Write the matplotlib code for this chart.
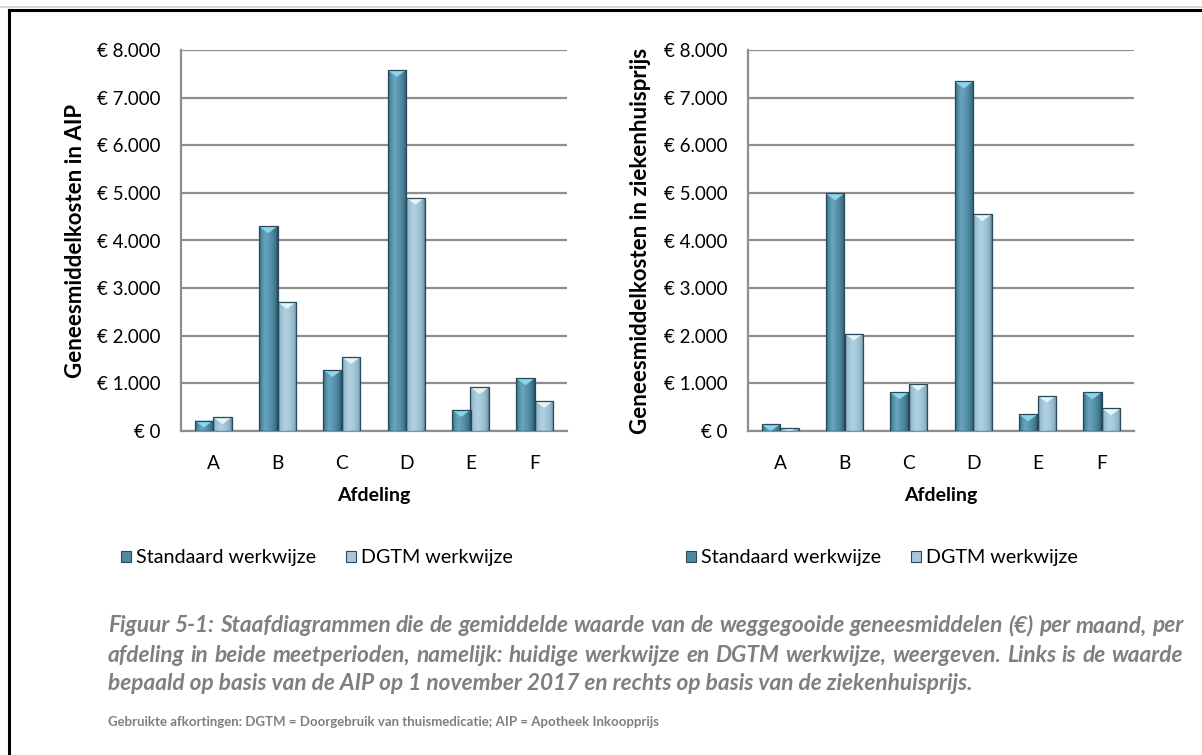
import matplotlib
matplotlib.use("Agg")
import matplotlib.pyplot as plt
import numpy as np
from matplotlib.colors import LinearSegmentedColormap
from matplotlib.patches import Polygon, Rectangle
from matplotlib.lines import Line2D

# ---------------- data ----------------
categories = ["A", "B", "C", "D", "E", "F"]
series_names = ["Standaard werkwijze", "DGTM werkwijze"]
aip_standaard = [220, 4300, 1280, 7580, 443, 1110]
aip_dgtm = [290, 2710, 1555, 4900, 922, 633]
zh_standaard = [140, 4990, 813, 7340, 350, 813]
zh_dgtm = [70, 2046, 995, 4553, 743, 476]
y_ticks = [0, 1000, 2000, 3000, 4000, 5000, 6000, 7000, 8000]
y_ticklabels = ["€ 0", "€ 1.000", "€ 2.000", "€ 3.000", "€ 4.000",
                "€ 5.000", "€ 6.000", "€ 7.000", "€ 8.000"]
ylabel_left = "Geneesmiddelkosten in AIP"
ylabel_right = "Geneesmiddelkosten in ziekenhuisprijs"
xlabel = "Afdeling"
caption_lines = [
    "Figuur 5-1: Staafdiagrammen die de gemiddelde waarde van de weggegooide geneesmiddelen (€) per maand, per",
    "afdeling in beide meetperioden, namelijk: huidige werkwijze en DGTM werkwijze, weergeven. Links is de waarde",
    "bepaald op basis van de AIP op 1 november 2017 en rechts op basis van de ziekenhuisprijs.",
]
abbrev = "Gebruikte afkortingen: DGTM = Doorgebruik van thuismedicatie; AIP = Apotheek Inkoopprijs"

# ---------------- style ----------------
W, H = 1202, 755
FONT = "Lato"
plt.rcParams["font.family"] = [FONT, "DejaVu Sans"]

std_cmap = LinearSegmentedColormap.from_list(
    "std", [(0.0, "#2e5a6d"), (0.12, "#4f8ba3"), (0.35, "#6aa6bf"),
            (0.7, "#4f8aa2"), (0.92, "#3b6e84"), (1.0, "#23414f")])
dgtm_cmap = LinearSegmentedColormap.from_list(
    "dgtm", [(0.0, "#6f94a6"), (0.12, "#99bfd1"), (0.4, "#b2d2e2"),
             (0.75, "#9cc0d1"), (0.92, "#84a9bb"), (1.0, "#5f7f8e")])
std_tip = "#8ed8f0"
dgtm_tip = "#eaf7fc"
edge_col = "#274a59"
grid_col = "#8e8e8e"

fig = plt.figure(figsize=(W / 100, H / 100), dpi=100)
fig.patch.set_facecolor("white")


def fx(px):
    return px / W


def fy(py):
    return 1 - py / H


def draw_chart(ax, std_vals, dgtm_vals, ylabel, ylabel_x):
    x = np.arange(len(categories))
    bw = 0.29
    ax.set_xlim(-0.5, len(categories) - 0.5)
    ax.set_ylim(0, 8000)
    bars_s = ax.bar(x - bw / 2, std_vals, bw, facecolor="none",
                    edgecolor=edge_col, linewidth=0.9, zorder=4)
    bars_d = ax.bar(x + bw / 2, dgtm_vals, bw, facecolor="none",
                    edgecolor=edge_col, linewidth=0.9, zorder=4)
    grad = np.linspace(0, 1, 64).reshape(1, -1)
    fig.canvas.draw()
    px_to_data = 8000 / ax.get_window_extent().height
    for bars, cmap, tipc in ((bars_s, std_cmap, std_tip), (bars_d, dgtm_cmap, dgtm_tip)):
        for b in bars:
            x0, w, h = b.get_x(), b.get_width(), b.get_height()
            im = ax.imshow(grad, cmap=cmap, aspect="auto",
                           extent=(x0, x0 + w, 0, h), zorder=3,
                           interpolation="bicubic")
            im.set_clip_path(b)
            th = min(7 * px_to_data, h)
            tri = Polygon([(x0, h), (x0 + w, h), (x0 + w / 2, h - th)],
                          closed=True, facecolor=tipc, edgecolor="none",
                          zorder=3.5, alpha=0.95)
            ax.add_patch(tri)
    ax.set_xlim(-0.5, len(categories) - 0.5)
    ax.set_ylim(0, 8000)
    ax.set_yticks(y_ticks)
    ax.set_yticklabels(y_ticklabels, fontsize=13.5)
    ax.set_xticks(x)
    ax.set_xticklabels(categories, fontsize=13.8)
    ax.tick_params(axis="both", length=0, pad=0)
    ax.tick_params(axis="y", pad=15)
    ax.tick_params(axis="x", pad=17)
    ax.yaxis.grid(True, color=grid_col, linewidth=1.6, zorder=0)
    ax.set_axisbelow(True)
    for s in ("top", "right"):
        ax.spines[s].set_visible(False)
    for s in ("left", "bottom"):
        ax.spines[s].set_color(grid_col)
        ax.spines[s].set_linewidth(1.6)
    ax.set_xlabel(xlabel, fontsize=14, fontweight="bold", labelpad=11)
    ax.set_ylabel(ylabel, fontsize=16, fontweight="bold")
    ax.yaxis.set_label_coords(ylabel_x, fy(240.5), transform=fig.transFigure)
    return bars_s, bars_d


ax1 = fig.add_axes([fx(181), fy(431), fx(386), 381 / H])
ax2 = fig.add_axes([fx(748), fy(431), fx(386), 381 / H])
bl = draw_chart(ax1, aip_standaard, aip_dgtm, ylabel_left, fx(86))
br = draw_chart(ax2, zh_standaard, zh_dgtm, ylabel_right, fx(651))

# legends
for bars, xpos in ((bl, fx(121)), (br, fx(686))):
    handles = [Rectangle((0, 0), 1, 1, facecolor="#4f8aa2", edgecolor=edge_col, linewidth=0.8),
               Rectangle((0, 0), 1, 1, facecolor="#a6c8d9", edgecolor=edge_col, linewidth=0.8)]
    fig.legend(handles, series_names, loc="center left",
               bbox_to_anchor=(xpos, fy(558)), ncol=2, frameon=False,
               fontsize=14.2, handlelength=0.5, handleheight=0.55,
               handletextpad=0.25, columnspacing=1.55, borderaxespad=0,
               borderpad=0)

# caption (justified)
renderer = fig.canvas.get_renderer()
cap_kw = dict(fontsize=16.3, fontstyle="italic", fontweight="bold", color="#7f7f7f")
x_left, x_right = 108, 1183
for i, (line, ypx) in enumerate(zip(caption_lines, [626, 655, 684])):
    if i < 2:
        words = line.split()
        widths = []
        for wd in words:
            t = fig.text(0, 0, wd, **cap_kw)
            widths.append(t.get_window_extent(renderer).width)
            t.remove()
        gap = (x_right - x_left - sum(widths)) / (len(words) - 1)
        xx = x_left
        for wd, wdt in zip(words, widths):
            fig.text(fx(xx), fy(ypx), wd, va="center", ha="left", **cap_kw)
            xx += wdt + gap
    else:
        fig.text(fx(x_left), fy(ypx), line, va="center", ha="left", **cap_kw)

fig.text(fx(x_left), fy(722), abbrev, va="center", ha="left",
         fontsize=9.5, fontweight="bold", color="#7f7f7f")

# outer frame
fig.add_artist(Line2D([fx(0), fx(W)], [fy(7), fy(7)], color="#d0d0d0", linewidth=1.2))
fig.add_artist(Line2D([fx(9), fx(W)], [fy(10), fy(10)], color="black", linewidth=2.2))
fig.add_artist(Line2D([fx(9), fx(9)], [fy(10), fy(H)], color="black", linewidth=2.2))

fig.savefig("out.png", dpi=100, facecolor="white")
